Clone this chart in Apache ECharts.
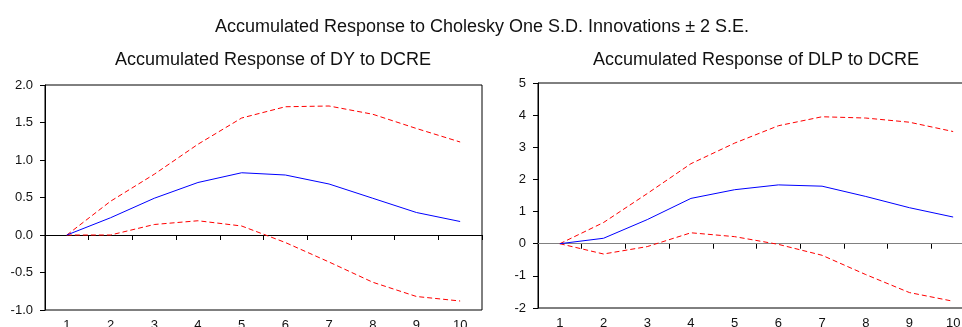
<!DOCTYPE html>
<html>
<head>
<meta charset="utf-8">
<script src="https://cdn.jsdelivr.net/npm/echarts@6/dist/echarts.min.js"></script>
<style>
  html, body { margin: 0; padding: 0; background: #fff; }
  #chart { width: 962px; height: 327px; }
</style>
</head>
<body>
<div id="chart"></div>
<script>
// Periods on the horizontal axis
const periods = ['1', '2', '3', '4', '5', '6', '7', '8', '9', '10'];

// Accumulated response of DY to DCRE: point estimate and +/- 2 S.E. bands
const dyResponse = [0.00, 0.23, 0.49, 0.70, 0.83, 0.80, 0.68, 0.49, 0.30, 0.18];
const dyUpper    = [0.00, 0.45, 0.81, 1.21, 1.56, 1.71, 1.72, 1.61, 1.42, 1.24];
const dyLower    = [0.00, 0.00, 0.14, 0.19, 0.12, -0.10, -0.36, -0.63, -0.82, -0.88];

// Accumulated response of DLP to DCRE: point estimate and +/- 2 S.E. bands
const dlpResponse = [0.00, 0.17, 0.75, 1.41, 1.68, 1.83, 1.79, 1.47, 1.12, 0.83];
const dlpUpper    = [0.00, 0.66, 1.56, 2.49, 3.13, 3.67, 3.95, 3.91, 3.78, 3.49];
const dlpLower    = [0.00, -0.32, -0.09, 0.34, 0.22, -0.02, -0.36, -0.96, -1.52, -1.79];

// Titles
const mainTitle = 'Accumulated Response to Cholesky One S.D. Innovations \u00b1 2 S.E.';
const leftTitle = 'Accumulated Response of DY to DCRE';
const rightTitle = 'Accumulated Response of DLP to DCRE';

const FONT = "'Liberation Sans', Arial, sans-serif";
const chart = echarts.init(document.getElementById('chart'), null, { renderer: 'canvas' });

function xAxisFor(gridIndex) {
  return {
    type: 'category',
    gridIndex: gridIndex,
    data: periods,
    boundaryGap: true,
    axisLine: { show: true, lineStyle: { color: '#000', width: 1 } },
    axisTick: { show: true, inside: false, length: 5, lineStyle: { color: '#000' } },
    axisLabel: { color: '#111', fontFamily: FONT, fontSize: 13, margin: 9 },
    splitLine: { show: false }
  };
}

function yAxisFor(gridIndex, min, max, interval, decimals) {
  return {
    type: 'value',
    gridIndex: gridIndex,
    min: min,
    max: max,
    interval: interval,
    axisLine: { show: true, lineStyle: { color: '#000', width: 1 } },
    axisTick: { show: true, inside: false, length: 5, lineStyle: { color: '#000' } },
    axisLabel: {
      color: '#111', fontFamily: FONT, fontSize: 13, margin: 12,
      formatter: v => v.toFixed(decimals)
    },
    splitLine: { show: false }
  };
}

function responseSeries(idx, data, zeroColor) {
  return {
    type: 'line', xAxisIndex: idx, yAxisIndex: idx, data: data,
    symbol: 'none', silent: true, z: 3,
    lineStyle: { color: '#0000ff', width: 1 },
    markLine: {
      silent: true, symbol: ['none', 'none'], label: { show: false },
      lineStyle: { color: zeroColor, width: 1, type: 'solid' },
      data: [{ yAxis: 0 }],
      z: 1
    }
  };
}

function bandSeries(idx, data) {
  return {
    type: 'line', xAxisIndex: idx, yAxisIndex: idx, data: data,
    symbol: 'none', silent: true, z: 2,
    lineStyle: { color: '#ff0000', width: 1, type: [5, 3] }
  };
}

chart.setOption({
  backgroundColor: '#fff',
  animation: false,
  title: [
    { text: mainTitle, left: 477, top: 13, textAlign: 'center',
      textStyle: { fontFamily: FONT, fontSize: 18, fontWeight: 'normal', color: '#111' } },
    { text: leftTitle, left: 268, top: 46, textAlign: 'center',
      textStyle: { fontFamily: FONT, fontSize: 18, fontWeight: 'normal', color: '#111' } },
    { text: rightTitle, left: 751, top: 46, textAlign: 'center',
      textStyle: { fontFamily: FONT, fontSize: 18, fontWeight: 'normal', color: '#111' } }
  ],
  grid: [
    { left: 45, top: 85, width: 437, height: 225, show: true, outerBoundsMode: 'none',
      borderColor: '#000', borderWidth: 1, backgroundColor: 'transparent' },
    { left: 538, top: 83, width: 437, height: 225, show: true, outerBoundsMode: 'none',
      borderColor: '#000', borderWidth: 1, backgroundColor: 'transparent' }
  ],
  xAxis: [xAxisFor(0), xAxisFor(1)],
  yAxis: [yAxisFor(0, -1, 2, 0.5, 1), yAxisFor(1, -2, 5, 1, 0)],
  series: [
    responseSeries(0, dyResponse, '#000'),
    bandSeries(0, dyUpper),
    bandSeries(0, dyLower),
    responseSeries(1, dlpResponse, '#808080'),
    bandSeries(1, dlpUpper),
    bandSeries(1, dlpLower)
  ]
});
</script>
</body>
</html>
